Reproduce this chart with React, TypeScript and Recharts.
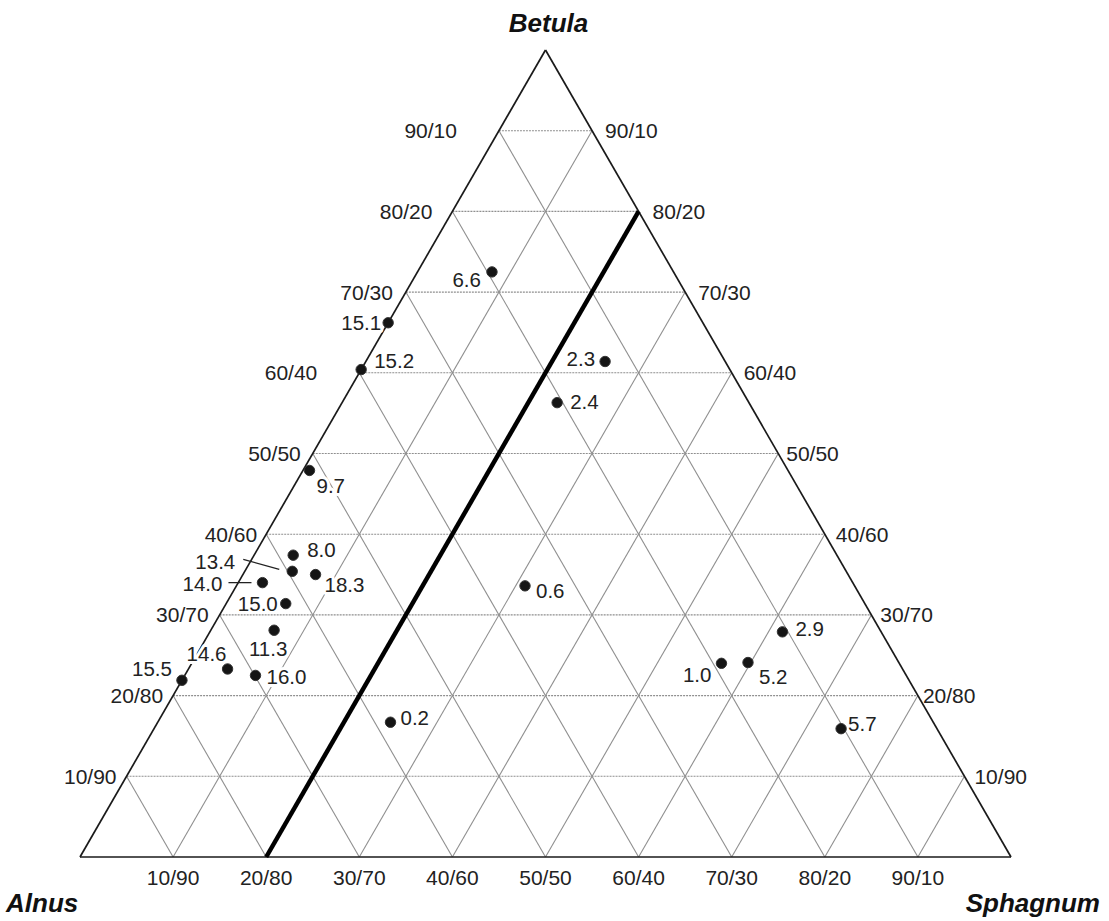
import React from 'react';
import { ScatterChart, Scatter, XAxis, YAxis, ReferenceLine } from 'recharts';

// ---- data (ternary percentages: Betula, Sphagnum; Alnus = remainder) ----
const SAMPLES = ['6.6', '15.1', '15.2', '2.3', '2.4', '9.7', '8.0', '13.4', '18.3', '14.0', '15.0', '11.3', '14.6', '15.5', '16.0', '0.2', '0.6', '2.9', '1.0', '5.2', '5.7'];
const BETULA = [72.5, 66.2, 60.4, 61.4, 56.3, 47.9, 37.4, 35.4, 35.0, 34.0, 31.4, 28.1, 23.3, 21.9, 22.5, 16.7, 33.6, 27.9, 24.0, 24.1, 15.9];
const SPHAGNUM = [8.0, 0, 0, 25.7, 23.1, 0.7, 4.2, 5.1, 7.8, 2.6, 6.4, 6.8, 4.2, 0, 7.6, 25.0, 31.0, 61.5, 56.9, 59.7, 73.8];

const GRID_STEPS = [10, 20, 30, 40, 50, 60, 70, 80, 90];
const LEFT_TICKS = ['10/90', '20/80', '30/70', '40/60', '50/50', '60/40', '70/30', '80/20', '90/10'];
const RIGHT_TICKS = ['10/90', '20/80', '30/70', '40/60', '50/50', '60/40', '70/30', '80/20', '90/10'];
const BOTTOM_TICKS = ['10/90', '20/80', '30/70', '40/60', '50/50', '60/40', '70/30', '80/20', '90/10'];
const THICK_LINE_SPHAGNUM = 20;
const TITLES = ['Betula', 'Alnus', 'Sphagnum'];

// ---- layout (offsets in px, kept apart from data) ----
const LEFT_TICK_DX = [-10, -10, -11, -9, -12, -42, -13, -20, -42];
const RIGHT_TICK_DX = [10, 5, 9, 11, 8, 12, 13, 14, 13];
type Lay = { dx: number; dy: number; anchor: 'start' | 'middle' | 'end'; leader?: [number, number, number, number] };
const LABEL_LAYOUT: Record<string, Lay> = {
  '6.6': { dx: -11, dy: 8, anchor: 'end' },
  '15.1': { dx: -7, dy: 0, anchor: 'end' },
  '15.2': { dx: 13, dy: -9, anchor: 'start' },
  '2.3': { dx: -10, dy: -3, anchor: 'end' },
  '2.4': { dx: 13, dy: -1, anchor: 'start' },
  '9.7': { dx: 7, dy: 15, anchor: 'start' },
  '8.0': { dx: 14, dy: -6, anchor: 'start' },
  '13.4': { dx: -57, dy: -10, anchor: 'end', leader: [-49, -12, -13, -2] },
  '18.3': { dx: 9, dy: 10, anchor: 'start' },
  '14.0': { dx: -40, dy: 1, anchor: 'end', leader: [-34, 0, -11, 0] },
  '15.0': { dx: -8, dy: 0, anchor: 'end' },
  '11.3': { dx: -6, dy: 18, anchor: 'middle' },
  '14.6': { dx: -21, dy: -15, anchor: 'middle' },
  '15.5': { dx: -10, dy: -12, anchor: 'end' },
  '16.0': { dx: 11, dy: 1, anchor: 'start' },
  '0.2': { dx: 10, dy: -5, anchor: 'start' },
  '0.6': { dx: 11, dy: 5, anchor: 'start' },
  '2.9': { dx: 13, dy: -3, anchor: 'start' },
  '1.0': { dx: -10, dy: 11, anchor: 'end' },
  '5.2': { dx: 11, dy: 14, anchor: 'start' },
  '5.7': { dx: 7, dy: -5, anchor: 'start' },
};

const FONT = '"Liberation Sans", Arial, Helvetica, sans-serif';

// ternary -> cartesian (Alnus at left, Sphagnum at right, Betula at apex)
const toXY = (b: number, s: number) => ({ x: s / 100 + b / 200, y: b / 100 });

const points = SAMPLES.map((name, i) => ({ ...toXY(BETULA[i], SPHAGNUM[i]), name }));

const leftTickData = GRID_STEPS.map((k, i) => ({ ...toXY(k, 0), label: LEFT_TICKS[i], dx: LEFT_TICK_DX[i] }));
const rightTickData = GRID_STEPS.map((k, i) => ({ ...toXY(k, 100 - k), label: RIGHT_TICKS[i], dx: RIGHT_TICK_DX[i] }));
const bottomTickData = GRID_STEPS.map((k, i) => ({ ...toXY(0, k), label: BOTTOM_TICKS[i] }));

const titleData = [
  { ...toXY(100, 0), label: TITLES[0], dx: 3, dy: -18, anchor: 'middle' },
  { ...toXY(0, 0), label: TITLES[1], dx: -74, dy: 55, anchor: 'start' },
  { ...toXY(0, 100), label: TITLES[2], dx: 89, dy: 55, anchor: 'end' },
];

type Seg = { a: { x: number; y: number }; b: { x: number; y: number }; dashed: boolean };
const gridSegs: Seg[] = [];
GRID_STEPS.forEach((k) => {
  gridSegs.push({ a: toXY(k, 0), b: toXY(k, 100 - k), dashed: true });
  if (k !== THICK_LINE_SPHAGNUM) gridSegs.push({ a: toXY(0, k), b: toXY(100 - k, k), dashed: false });
  gridSegs.push({ a: toXY(0, 100 - k), b: toXY(100 - k, 0), dashed: false });
});
const edges = [
  [toXY(0, 0), toXY(0, 100)],
  [toXY(0, 100), toXY(100, 0)],
  [toXY(100, 0), toXY(0, 0)],
];
const thick = [toXY(0, THICK_LINE_SPHAGNUM), toXY(100 - THICK_LINE_SPHAGNUM, THICK_LINE_SPHAGNUM)];

const tickText = (anchor: 'start' | 'middle' | 'end') => (p: any) => {
  const dx = p.payload.dx ?? 0;
  const dy = p.payload.dy ?? 0;
  return (
    <text x={p.cx + dx} y={p.cy + dy} textAnchor={anchor} dominantBaseline="central" fontFamily={FONT} fontSize={21} fill="#222">
      {p.payload.label}
    </text>
  );
};

const bottomText = (p: any) => (
  <text x={p.cx} y={p.cy + 20} textAnchor="middle" dominantBaseline="central" fontFamily={FONT} fontSize={21} fill="#222">
    {p.payload.label}
  </text>
);

const titleText = (p: any) => (
  <text x={p.cx + p.payload.dx} y={p.cy + p.payload.dy} textAnchor={p.payload.anchor} fontFamily={FONT} fontSize={26} fontWeight="bold" fontStyle="italic" fill="#111">
    {p.payload.label}
  </text>
);

const sampleLabel = (p: any) => {
  const lay = LABEL_LAYOUT[p.payload.name] || { dx: 8, dy: 0, anchor: 'start' };
  return (
    <g>
      {lay.leader && (
        <line x1={p.cx + lay.leader[0]} y1={p.cy + lay.leader[1]} x2={p.cx + lay.leader[2]} y2={p.cy + lay.leader[3]} stroke="#222" strokeWidth={1.3} />
      )}
      <text
        x={p.cx + lay.dx}
        y={p.cy + lay.dy}
        textAnchor={lay.anchor}
        dominantBaseline="central"
        fontFamily={FONT}
        fontSize={20.5}
        fill="#222"
        stroke="#fff"
        strokeWidth={6}
        strokeLinejoin="round"
        paintOrder="stroke"
      >
        {p.payload.name}
      </text>
    </g>
  );
};

const dot = (p: any) => <circle cx={p.cx} cy={p.cy} r={5.2} fill="#151515" stroke="#333" strokeWidth={1} />;

export default function App() {
  return (
    <div style={{ position: 'absolute', left: 0, top: 0, background: '#fff' }}>
      <ScatterChart width={1109} height={921} margin={{ top: 50, right: 98, bottom: 64, left: 80 }}>
        <XAxis type="number" dataKey="x" domain={[0, 1]} hide />
        <YAxis type="number" dataKey="y" domain={[0, 1]} hide />
        {gridSegs.map((g, i) => (
          <ReferenceLine
            key={'g' + i}
            segment={[g.a, g.b]}
            stroke="#8f8f8f"
            strokeWidth={1.1}
            strokeDasharray={g.dashed ? '2 1' : undefined}
            ifOverflow="visible"
            zIndex={100}
          />
        ))}
        {edges.map((e, i) => (
          <ReferenceLine key={'e' + i} segment={e} stroke="#1a1a1a" strokeWidth={1.7} ifOverflow="visible" zIndex={110} />
        ))}
        <ReferenceLine segment={thick} stroke="#000" strokeWidth={4.5} ifOverflow="visible" zIndex={120} />
        <Scatter data={leftTickData} shape={tickText('end')} isAnimationActive={false} zIndex={600} />
        <Scatter data={rightTickData} shape={tickText('start')} isAnimationActive={false} zIndex={600} />
        <Scatter data={bottomTickData} shape={bottomText} isAnimationActive={false} zIndex={600} />
        <Scatter data={titleData} shape={titleText} isAnimationActive={false} zIndex={600} />
        <Scatter data={points} shape={sampleLabel} isAnimationActive={false} zIndex={610} />
        <Scatter data={points} shape={dot} isAnimationActive={false} zIndex={620} />
      </ScatterChart>
    </div>
  );
}
